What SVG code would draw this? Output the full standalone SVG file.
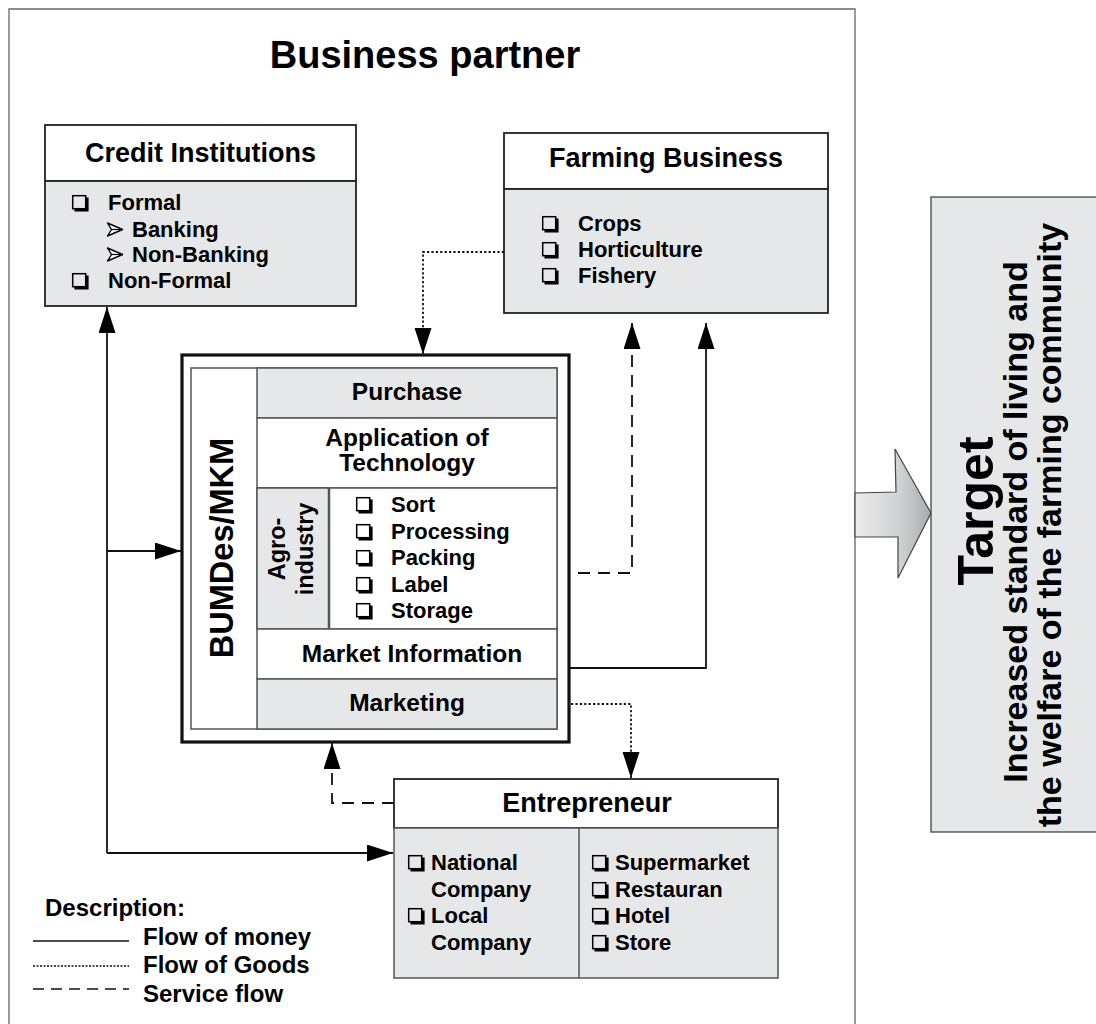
<svg xmlns="http://www.w3.org/2000/svg" width="1096" height="1024" viewBox="0 0 1096 1024">
<style>
text{font-family:"Liberation Sans",Arial,sans-serif;font-weight:bold;fill:#000}
.h{font-size:27px;text-anchor:middle}
.m{font-size:24.5px;text-anchor:middle}
.b{font-size:22px}
.lg{font-size:24px}
.box{stroke:#222;stroke-width:1.8}
.inner{stroke:#555;stroke-width:1.5}
.gray{fill:#e6e7e8}
.white{fill:#fff}
.con{fill:none;stroke:#111;stroke-width:1.8}
.dot{stroke-dasharray:2.2 2.2}
.dash{stroke-dasharray:12 8}
</style>
<defs>
<marker id="ah" markerUnits="userSpaceOnUse" markerWidth="27" markerHeight="18" refX="26" refY="8.5" orient="auto">
<path d="M0,0 L26,8.5 L0,17 Z" fill="#000"/>
</marker>
<g id="cb">
<rect x="0.7" y="-14.3" width="13" height="13" fill="none" stroke="#000" stroke-width="1.5"/>
<path d="M2.5,0.3 H15.3 V-12.5" fill="none" stroke="#000" stroke-width="2.6"/>
</g>
<g id="ar">
<path d="M0.5,-14 L15.5,-7.5 L0.5,-1 L4.5,-7.5 Z" fill="#fff" stroke="#000" stroke-width="1.4" stroke-linejoin="round"/>
<path d="M4.5,-7.5 H15.5" stroke="#000" stroke-width="1.2"/>
</g>
<linearGradient id="grad" x1="0" y1="0" x2="1" y2="0">
<stop offset="0" stop-color="#ececec"/>
<stop offset="0.6" stop-color="#cfd0d2"/>
<stop offset="1" stop-color="#a9abae"/>
</linearGradient>
</defs>
<rect width="1096" height="1024" fill="#fff"/>

<g id="frame">
<path d="M9,1024 V9 H855 V1024" fill="none" stroke="#666" stroke-width="1.3"/>
<text x="425" y="68" style="font-size:38px;text-anchor:middle">Business partner</text>
</g>

<g id="credit">
<rect x="45" y="125" width="311" height="56" class="white box"/>
<rect x="45" y="181" width="311" height="125" class="gray box"/>
<text x="200.5" y="162" class="h">Credit Institutions</text>
<use href="#cb" x="72" y="210"/>
<text x="108" y="210" class="b">Formal</text>
<use href="#ar" x="107" y="237"/>
<text x="132" y="237" class="b">Banking</text>
<use href="#ar" x="107" y="262"/>
<text x="132" y="262" class="b">Non-Banking</text>
<use href="#cb" x="72" y="288"/>
<text x="108" y="288" class="b">Non-Formal</text>
</g>

<g id="farming">
<rect x="504" y="133" width="324" height="56" class="white box"/>
<rect x="504" y="189" width="324" height="124" class="gray box"/>
<text x="666" y="167" class="h">Farming Business</text>
<use href="#cb" x="542" y="231"/>
<text x="578" y="231" class="b">Crops</text>
<use href="#cb" x="542" y="257"/>
<text x="578" y="257" class="b">Horticulture</text>
<use href="#cb" x="542" y="283"/>
<text x="578" y="283" class="b">Fishery</text>
</g>

<g id="bumdes">
<rect x="182" y="355" width="387" height="387" fill="#fff" stroke="#111" stroke-width="3.2"/>
<rect x="191" y="368" width="366" height="361" fill="#fff" class="inner"/>
<rect x="257" y="368" width="300" height="50" class="gray inner"/>
<rect x="257" y="418" width="300" height="70" class="white inner"/>
<rect x="257" y="488" width="300" height="141" class="white inner"/>
<rect x="257" y="488" width="72" height="141" class="gray inner"/>
<line x1="329" y1="488" x2="329" y2="629" stroke="#555" stroke-width="2.5"/>
<rect x="257" y="629" width="300" height="50" class="white inner"/>
<rect x="257" y="679" width="300" height="50" class="gray inner"/>
<text transform="translate(233,548) rotate(-90)" style="font-size:32.5px;text-anchor:middle">BUMDes/MKM</text>
<text x="407" y="400" class="m">Purchase</text>
<text x="407" y="446" class="m">Application of</text>
<text x="407" y="471" class="m">Technology</text>
<text transform="translate(285,549) rotate(-90)" class="m" style="font-size:23.5px">Agro-</text>
<text transform="translate(313,549) rotate(-90)" class="m" style="font-size:23.5px">industry</text>
<use href="#cb" x="356" y="512"/>
<text x="391" y="512" class="b">Sort</text>
<use href="#cb" x="356" y="539"/>
<text x="391" y="539" class="b">Processing</text>
<use href="#cb" x="356" y="565"/>
<text x="391" y="565" class="b">Packing</text>
<use href="#cb" x="356" y="592"/>
<text x="391" y="592" class="b">Label</text>
<use href="#cb" x="356" y="618"/>
<text x="391" y="618" class="b">Storage</text>
<text x="412" y="662" class="m">Market Information</text>
<text x="407" y="711" class="m">Marketing</text>
</g>

<g id="entrepreneur">
<rect x="394" y="779" width="384" height="49" class="white box" stroke-width="1.5"/>
<rect x="394" y="828" width="384" height="150" class="gray box" style="stroke:#555;stroke-width:1.5"/>
<line x1="579" y1="828" x2="579" y2="978" stroke="#555" stroke-width="1.5"/>
<text x="587" y="812" class="h">Entrepreneur</text>
<use href="#cb" x="408" y="870"/>
<text x="431" y="870" class="b">National</text>
<text x="431" y="897" class="b">Company</text>
<use href="#cb" x="408" y="923"/>
<text x="431" y="923" class="b">Local</text>
<text x="431" y="950" class="b">Company</text>
<use href="#cb" x="592" y="870"/>
<text x="615" y="870" class="b">Supermarket</text>
<use href="#cb" x="592" y="897"/>
<text x="615" y="897" class="b">Restauran</text>
<use href="#cb" x="592" y="923"/>
<text x="615" y="923" class="b">Hotel</text>
<use href="#cb" x="592" y="950"/>
<text x="615" y="950" class="b">Store</text>
</g>

<g id="connectors">
<path d="M107,853 V307" class="con" marker-end="url(#ah)"/>
<path d="M107,853 H393" class="con" marker-end="url(#ah)"/>
<path d="M107,551 H181" class="con" marker-end="url(#ah)"/>
<path d="M569,668 H706 V323" class="con" marker-end="url(#ah)"/>
<path d="M578,573 H632 V323" class="con dash" marker-end="url(#ah)"/>
<path d="M504,252 H423 V354" class="con dot" marker-end="url(#ah)"/>
<path d="M571,704 H631 V778" class="con dot" marker-end="url(#ah)"/>
<path d="M394,803 H332 V743" class="con dash" marker-end="url(#ah)"/>
</g>

<g id="legend">
<text x="45" y="916" class="lg">Description:</text>
<line x1="33" y1="941" x2="129" y2="941" stroke="#111" stroke-width="1.5"/>
<line x1="33" y1="966" x2="129" y2="966" stroke="#111" stroke-width="1.5" stroke-dasharray="2 1.5"/>
<line x1="33" y1="989" x2="129" y2="989" stroke="#111" stroke-width="1.5" stroke-dasharray="11 7"/>
<text x="143" y="945" class="lg">Flow of money</text>
<text x="143" y="973" class="lg">Flow of Goods</text>
<text x="143" y="1002" class="lg">Service flow</text>
</g>

<g id="bigarrow">
<path d="M855,493 L896,492 L895,449 L931,513 L898,578 L898,537 L855,537 Z" fill="url(#grad)" stroke="#444" stroke-width="1.2"/>
</g>

<g id="target">
<rect x="931" y="197" width="200" height="635" fill="#e6e7e8" stroke="#444" stroke-width="1.3"/>
<text transform="translate(993,511) rotate(-90)" style="font-size:50px;text-anchor:middle">Target</text>
<text transform="translate(1027,522) rotate(-90)" style="font-size:34px;text-anchor:middle">Increased standard of living and</text>
<text transform="translate(1061,525) rotate(-90)" style="font-size:34px;text-anchor:middle">the welfare of the farming community</text>
</g>
</svg>
